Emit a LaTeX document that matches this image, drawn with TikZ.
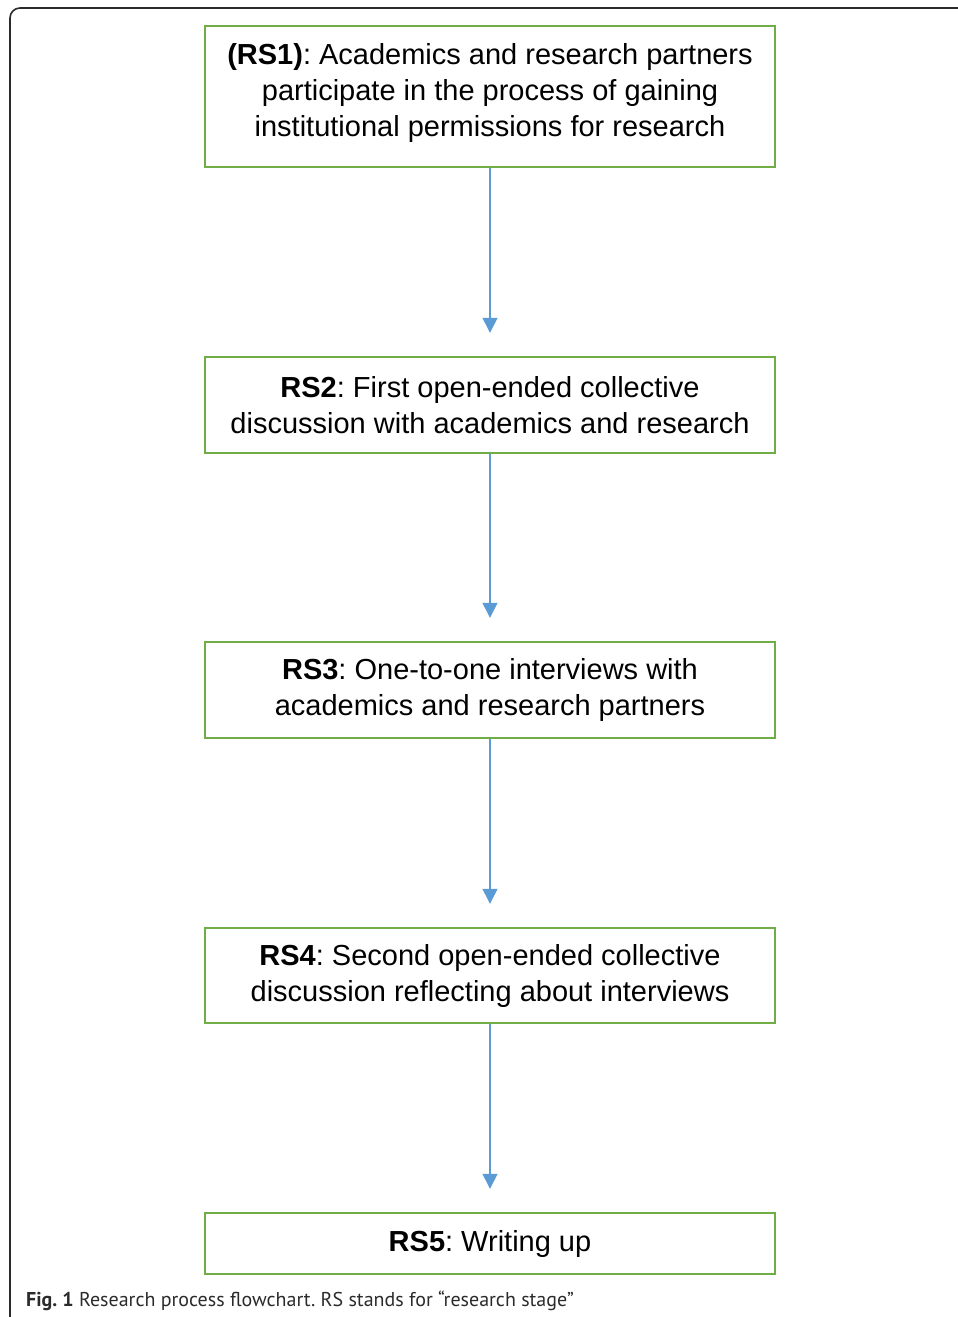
\documentclass[tikz,border=0pt]{standalone}
\usepackage{fontspec}
\setmainfont{Liberation Sans}
\newfontfamily\capfont{PT Sans}
\usepackage{xcolor}
\usetikzlibrary{arrows.meta}
\definecolor{boxgreen}{HTML}{70AD47}
\definecolor{arrowblue}{HTML}{5B9BD5}
\definecolor{framegray}{HTML}{2B2B2B}
\frenchspacing

\begin{document}
\begin{tikzpicture}[x=1pt,y=-1pt,
    stage/.style={draw=boxgreen,line width=2.4pt,minimum width=570pt,align=center,inner sep=0pt,
      font=\fontsize{29}{36}\selectfont},
    flow/.style={draw=arrowblue,line width=1.3pt,-{Triangle[length=15pt,width=15pt]},shorten >=23pt}]
  \useasboundingbox (0,0) rectangle (958,1317);
  % outer frame
  \draw [framegray, line width=1.6pt, rounded corners=10pt] (10,1317) -- (10,8) -- (958,8);

  % research stages
  \node (rs1) at (490,96.5)[stage,minimum height=141pt,text depth=14pt]{\textbf{(RS1)}: Academics and research partners\\participate in the process of gaining\\institutional permissions for research};
  \node (rs2) at (490,405)[stage,minimum height=96pt]{\textbf{RS2}: First open-ended collective\\discussion with academics and research};
  \node (rs3) at (490,690)[stage,minimum height=96pt]{\textbf{RS3}: One-to-one interviews with\\academics and research partners};
  \node (rs4) at (490,975.5)[stage,minimum height=95pt]{\textbf{RS4}: Second open-ended collective\\discussion reflecting about interviews};
  \node (rs5) at (490,1243.5)[stage,minimum height=61pt]{\textbf{RS5}: Writing up};

  \draw [flow] (rs1) -- (rs2);
  \draw [flow] (rs2) -- (rs3);
  \draw [flow] (rs3) -- (rs4);
  \draw [flow] (rs4) -- (rs5);

  % caption
  \node (cap) at (26,1301)[anchor=west,inner sep=0pt,font=\capfont\fontsize{20}{24}\selectfont,text=framegray]{\textbf{Fig. 1} Research process flowchart. RS stands for “research stage”};
\end{tikzpicture}
\end{document}
